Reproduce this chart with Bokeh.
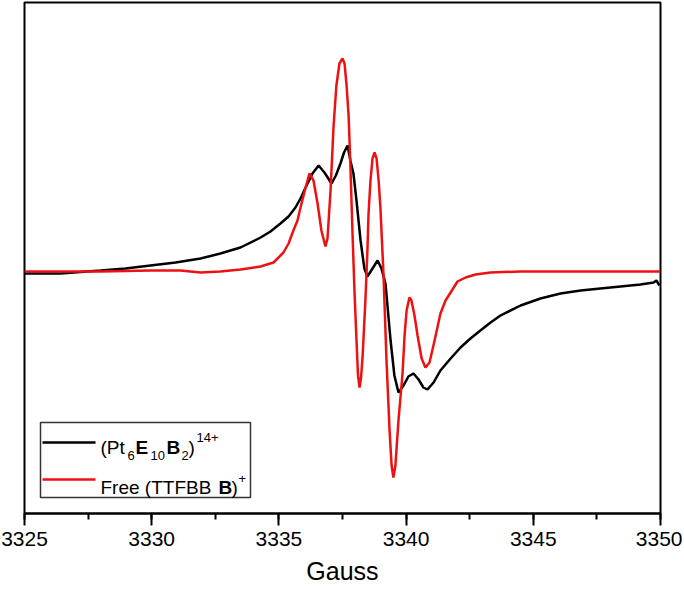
from bokeh.plotting import figure
from bokeh.models import Range1d, SingleIntervalTicker
from bokeh.core.properties import value
from bokeh.embed import file_html
from bokeh.resources import INLINE

# ---------------- data ----------------
gauss_pt = [3325.00, 3326.42, 3327.99, 3328.97, 3329.95, 3330.94, 3331.92, 3332.70, 3333.49, 3334.28,
            3334.67, 3335.06, 3335.38, 3335.65, 3335.85, 3336.05, 3336.32, 3336.56, 3336.79, 3337.07,
            3337.24, 3337.42, 3337.56, 3337.70, 3337.81, 3337.93, 3338.05, 3338.21, 3338.36, 3338.48,
            3338.68, 3338.88, 3339.03, 3339.19, 3339.39, 3339.54, 3339.70, 3339.90, 3340.09, 3340.29,
            3340.49, 3340.68, 3340.84, 3341.08, 3341.35, 3341.55, 3341.75, 3342.14, 3342.53, 3342.92,
            3343.32, 3343.71, 3344.50, 3345.28, 3346.07, 3346.86, 3347.64, 3348.43, 3349.21, 3349.73,
            3349.84, 3349.96]
signal_pt = [-2, -2, 1, 3, 6, 9, 13, 18, 24, 34,
             40, 48, 55, 64, 73, 84, 98, 106, 99, 88,
             96, 108, 119, 126, 111, 98, 71, 31, 3, -5,
             3, 11, 3, -12, -69, -104, -121, -114, -105, -102,
             -108, -116, -118, -111, -99, -93, -87, -76, -67, -59,
             -51, -44, -34, -27, -22, -19, -17, -15, -13, -11,
             -9, -14]

gauss_free = [3325.00, 3327.99, 3329.95, 3331.13, 3331.92, 3332.70, 3333.49, 3334.28, 3334.79, 3335.18,
              3335.38, 3335.57, 3335.73, 3335.85, 3336.05, 3336.20, 3336.36, 3336.52, 3336.67, 3336.83,
              3336.91, 3337.03, 3337.15, 3337.26, 3337.38, 3337.50, 3337.58, 3337.66, 3337.74, 3337.81,
              3337.89, 3337.97, 3338.05, 3338.11, 3338.17, 3338.23, 3338.29, 3338.40, 3338.48, 3338.52,
              3338.60, 3338.68, 3338.76, 3338.84, 3338.92, 3338.99, 3339.11, 3339.23, 3339.35, 3339.43,
              3339.50, 3339.58, 3339.70, 3339.86, 3339.94, 3340.02, 3340.13, 3340.21, 3340.33, 3340.45,
              3340.61, 3340.76, 3340.92, 3341.12, 3341.35, 3341.55, 3341.75, 3342.02, 3342.34, 3342.73,
              3343.32, 3344.50, 3346.07, 3347.64, 3350.00]
signal_free = [0, 0, 1, 1, -1, 0, 2, 5, 9, 19,
               28, 41, 51, 64, 84, 98, 91, 68, 41, 25,
               33, 81, 146, 186, 208, 213, 208, 186, 156, 106,
               41, -19, -69, -104, -116, -106, -85, -29, 21, 56,
               91, 113, 119, 113, 91, 64, -2, -89, -159, -194,
               -206, -194, -149, -102, -64, -39, -26, -29, -44, -64,
               -87, -96, -91, -69, -42, -29, -21, -10, -6, -3,
               -1, 0, 0, 0, 0]

x_start, x_end = 3325, 3350
y_low, y_high = -242, 269
tick_interval = 5
x_title = "Gauss"

# ---------------- layout (page pixels) ----------------
FRAME_W, FRAME_H = 636, 511
FRAME_LEFT, FRAME_TOP = 24, 2


def dx(px):
    return x_start + (px - FRAME_LEFT) / FRAME_W * (x_end - x_start)


def dy(py):
    return y_high - (py - FRAME_TOP) / FRAME_H * (y_high - y_low)


FONT = "Liberation Sans"
BLACK = "#000000"
RED = "#ee1111"

p = figure(frame_width=FRAME_W, frame_height=FRAME_H,
           min_border_left=24, min_border_right=22, min_border_top=2, min_border_bottom=0,
           x_range=Range1d(x_start, x_end), y_range=Range1d(y_low, y_high),
           output_backend="svg", toolbar_location=None)

p.grid.visible = False
p.yaxis.visible = False
p.outline_line_color = "black"
p.outline_line_width = 2
p.outline_line_alpha = 1
p.background_fill_color = "white"
p.border_fill_color = "white"

ax = p.xaxis[0]
ax.ticker = SingleIntervalTicker(interval=tick_interval, num_minor_ticks=2)
ax.axis_line_width = 2
ax.axis_line_color = "black"
ax.major_tick_out = 12
ax.major_tick_in = 0
ax.minor_tick_out = 6
ax.minor_tick_in = 0
ax.major_tick_line_width = 2
ax.minor_tick_line_width = 2
ax.major_label_text_font = FONT
ax.major_label_text_font_size = "21px"
ax.major_label_text_color = "black"
ax.major_label_standoff = 6
ax.axis_label = x_title
ax.axis_label_text_font = FONT
ax.axis_label_text_font_size = "25px"
ax.axis_label_text_font_style = "normal"
ax.axis_label_text_color = "black"
ax.axis_label_standoff = 8

# curves
p.line(gauss_pt, signal_pt, line_color=BLACK, line_width=2.5)
p.line(gauss_free, signal_free, line_color=RED, line_width=2.5)

# ---------------- legend (drawn by hand for sub/superscripts) ----------------
p.quad(left=[dx(40)], right=[dx(250)], top=[dy(422)], bottom=[dy(497)],
       fill_color="white", line_color="#333333", line_width=1.5)
p.line([dx(42), dx(95)], [dy(442), dy(442)], line_color=BLACK, line_width=2.5)
p.line([dx(42), dx(95)], [dy(479), dy(479)], line_color=RED, line_width=2.5)

legend_pieces = [
    ("(Pt", 100, 447, 19, "normal"),
    ("6", 127, 455, 13, "normal"),
    ("E", 135, 447, 19, "bold"),
    ("10", 150, 455, 13, "normal"),
    ("B", 166, 447, 19, "bold"),
    ("2", 181, 455, 13, "normal"),
    (")", 188, 447, 19, "normal"),
    ("14+", 196, 437, 13, "normal"),
    ("Free (TTFBB", 100, 487, 19, "normal"),
    ("B", 218, 487, 19, "bold"),
    (")", 231, 487, 19, "normal"),
    ("+", 238, 478, 13, "normal"),
]
for txt, px, py, size, style in legend_pieces:
    p.text(x=[dx(px)], y=[dy(py)], text=[txt], text_font=value(FONT),
           text_font_size=f"{size}px", text_font_style=style, text_color="black",
           text_align="left", text_baseline="alphabetic")

open("out.html", "w").write(file_html(p, INLINE))
